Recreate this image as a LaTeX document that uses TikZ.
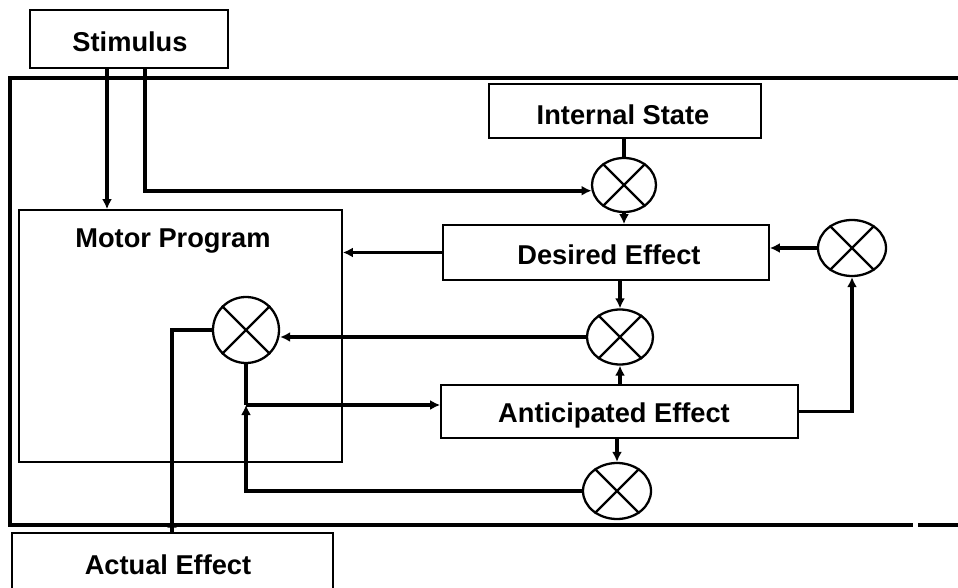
\documentclass[tikz,border=0pt]{standalone}
\usepackage{fontspec}
\setmainfont{Liberation Sans}
\usetikzlibrary{arrows.meta,shapes.geometric,decorations.markings}

\tikzset{
	txt/.style={font=\bfseries\fontsize{15.5}{17}\selectfont, inner sep=0pt},
	thinbox/.style={draw, line width=1pt, inner sep=0pt},
	thickbox/.style={draw, line width=1.6pt, inner sep=0pt},
	comp/.style={draw, ellipse, line width=1.3pt, inner sep=0pt},
	wire/.style={line width=2.1pt},
	arr/.style={wire, -{Latex[length=2mm,width=2mm]}},
	uparr/.style={wire, decoration={markings, mark=at position 0.28cm with {\arrow{Latex[length=2mm,width=2mm]}}}, postaction={decorate}}
}

\begin{document}
\begin{tikzpicture}
		%%%%% START %%%%%
		\clip (0, 0) rectangle (19.16, 11.74);
		
		% frame
		\draw[wire] (19.3, 10.18) -- (0.2, 10.18) -- (0.2, 1.24) -- (18.26, 1.24);
		\draw[wire] (18.36, 1.24) -- (19.3, 1.24);
		
		% boxes
		\node[thickbox, minimum width=3.96cm, minimum height=1.16cm] (stim) at (2.58, 10.96) {};
		\node[txt] (stimtxt) at (2.60, 10.90) {Stimulus};
		\node[thinbox, minimum width=6.46cm, minimum height=5.04cm] (mp) at (3.61, 5.02) {};
		\node[txt] (mptxt) at (3.46, 6.92) {Motor Program};
		\node[thinbox, minimum width=5.44cm, minimum height=1.08cm] (ins) at (12.50, 9.52) {};
		\node[txt] (instxt) at (12.46, 9.44) {Internal State};
		\node[thinbox, minimum width=6.52cm, minimum height=1.10cm] (des) at (12.12, 6.69) {};
		\node[txt] (destxt) at (12.18, 6.64) {Desired Effect};
		\node[thinbox, minimum width=7.14cm, minimum height=1.06cm] (anc) at (12.39, 3.51) {};
		\node[txt] (anctxt) at (12.28, 3.44) {Anticipated Effect};
		\node[thickbox, minimum width=6.42cm, minimum height=1.34cm] (act) at (3.45, 0.41) {};
		\node[txt] (acttxt) at (3.36, 0.44) {Actual Effect};
		
		% comparators
		\node[comp, minimum width=1.28cm, minimum height=1.08cm] (c1) at (12.48, 8.04) {};
		\node[comp, minimum width=1.36cm, minimum height=1.12cm] (c2) at (17.04, 6.78) {};
		\node[comp, minimum width=1.32cm, minimum height=1.10cm] (c3) at (12.40, 5.00) {};
		\node[comp, minimum width=1.36cm, minimum height=1.12cm] (c4) at (12.34, 1.92) {};
		\node[comp, minimum width=1.32cm, minimum height=1.32cm] (c5) at (4.92, 5.14) {};
		\foreach \c in {c1, c2, c3, c4, c5} {
			\draw[line width=1.3pt] (\c.45) -- (\c.225);
			\draw[line width=1.3pt] (\c.135) -- (\c.315);
		}
		
		% channels
		\coordinate (xs1) at (2.14, 0);
		\coordinate (xs2) at (2.90, 0);
		\coordinate (xa) at (3.44, 0);
		\coordinate (jn) at (4.92, 3.64);
		
		\draw[arr] (stim.south -| xs1) -- (mp.north -| xs1);
		\draw[arr] (stim.south -| xs2) |- (c1.190);
		\draw[wire] (ins.south -| c1) -- (c1.north);
		\draw[arr] (c1.south) -- (c1.south |- des.north);
		\draw[arr] (des.west) -- (des.west -| mp.east);
		\draw[arr] (c2.west) -- (c2.west -| des.east);
		\draw[arr] (des.south -| c3) -- (c3.north);
		\draw[arr] (c3.west) -- (c3.west -| c5.east);
		\draw[arr] (anc.north -| c3) -- (c3.south);
		\draw[arr] (anc.south -| c4) -- (c4.north);
		\draw[arr] (anc.east) -| (c2.south);
		\draw[wire] (c5.south) -- (jn);
		\draw[arr] (jn) -- (jn -| anc.west);
		\draw[arr] (c4.west) -| (jn);
		\draw[uparr] (act.north -| xa) |- (c5.west);
		
		%%%%% END %%%%%
	\end{tikzpicture}
\end{document}
